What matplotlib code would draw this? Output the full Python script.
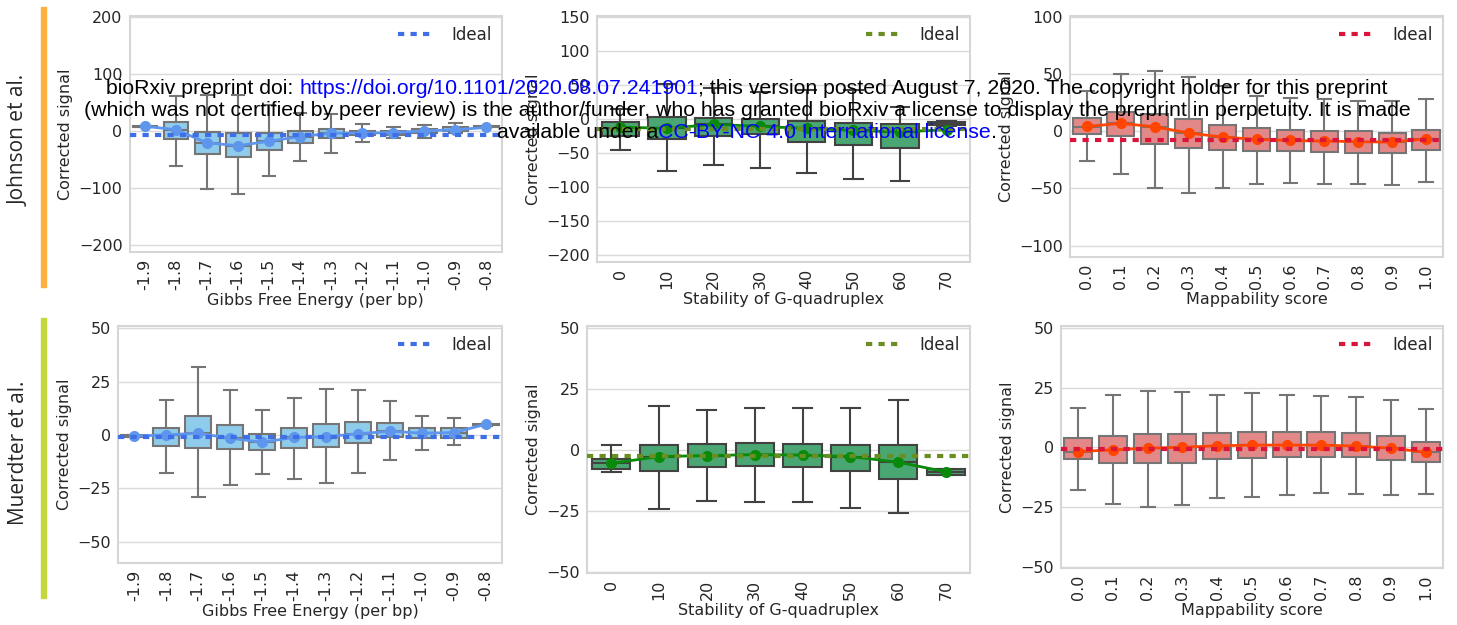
import matplotlib
matplotlib.use('Agg')
import matplotlib.pyplot as plt
from matplotlib.patches import Rectangle

# ---- data ----
gibbs_labels = ['-1.9', '-1.8', '-1.7', '-1.6', '-1.5', '-1.4', '-1.3', '-1.2', '-1.1', '-1.0', '-0.9', '-0.8']
g4_labels = ['0', '10', '20', '30', '40', '50', '60', '70']
map_labels = ['0.0', '0.1', '0.2', '0.3', '0.4', '0.5', '0.6', '0.7', '0.8', '0.9', '1.0']

# Johnson et al. - Gibbs free energy
j_gibbs_wlo = [6, -62, -102, -110, -79, -53, -39, -20, -12, -12, -3, 6]
j_gibbs_q1 = [6, -15, -41, -46, -33, -21, -13, -7.5, -7, -4, 0, 7]
j_gibbs_med = [7, 1, -21, -26, -18, -10, -4, -4, -3, 0, 2, 7.5]
j_gibbs_q3 = [8, 16, -2, -3, -3, 0, 4, 0, 0, 3, 6, 8]
j_gibbs_whi = [8, 61, 62, 62, 45, 32, 29, 12, 7, 11, 14, 8]
j_gibbs_mean = [8, 2, -21, -26, -18, -10, -4, -4, -3, 0, 2, 6]
j_gibbs_ideal = -7.5

# Johnson et al. - G-quadruplex stability
j_g4_wlo = [-46, -77, -67, -72, -79, -88, -91, -10]
j_g4_q1 = [-25, -30, -25, -22, -34, -39, -43, -9]
j_g4_med = [-13, -14, -8, -11, -14, -17, -19, -7]
j_g4_q3 = [-4, 3, 2, 0, -3, -6, -8, -5]
j_g4_whi = [14, 51, 45, 40, 43, 42, 18, -3]
j_g4_mean = [-12, -14, -8, -11, -14, -17, -19, -16]
j_g4_ideal = -15

# Johnson et al. - mappability
j_map_wlo = [-25.6, -37, -50, -54, -50, -46, -45, -46, -46, -47, -44]
j_map_q1 = [-2, -4, -11, -15, -16, -17, -17, -18, -18.6, -19, -16]
j_map_med = [4, 7, 4, -1.4, -5, -7, -8, -8.5, -9, -9.5, -6.4]
j_map_q3 = [12, 17, 15, 10.5, 6, 2.6, 1.2, 0.6, 0, -1, 1.5]
j_map_whi = [35.5, 50, 53, 48, 40, 31, 29, 28, 27, 27, 28]
j_map_mean = [4.3, 7, 4, -1.4, -5, -7, -8, -8.5, -9, -9.5, -6.4]
j_map_ideal = -8

# Muerdter et al. - Gibbs free energy
m_gibbs_wlo = [-1, -18, -29, -23.7, -18.4, -20.5, -22.7, -18, -11.6, -7.2, -4.5, 4]
m_gibbs_q1 = [-1, -5.2, -6, -6.7, -7, -6, -5.8, -3.6, -1.2, -1.6, -1.4, 4.5]
m_gibbs_med = [-0.5, 0, 0.8, -1.6, -3.4, -1.2, -0.8, 0.5, 1.7, 0.8, 1.1, 4.7]
m_gibbs_q3 = [0, 3.4, 9, 4.4, 0.3, 3.3, 5.2, 6.2, 5.6, 3.3, 3.3, 5]
m_gibbs_whi = [0, 16.4, 31.7, 21, 11.7, 17.5, 21.7, 20.8, 16, 8.9, 8.1, 5]
m_gibbs_mean = [-0.5, 0, 0.8, -1.6, -3.4, -1.2, -0.8, 0.5, 1.7, 0.8, 1.1, 5]
m_gibbs_ideal = -0.9

# Muerdter et al. - G-quadruplex stability
m_g4_wlo = [-8.9, -24.4, -20.9, -21.2, -21.6, -23.8, -26, -10.4]
m_g4_q1 = [-7.9, -8.6, -7, -6.7, -7, -8.6, -12, -10.1]
m_g4_med = [-5.5, -2.7, -2.3, -1.9, -2.1, -2.7, -5, -9]
m_g4_q3 = [-3.8, 2.2, 2.5, 2.9, 2.6, 1.9, 2.2, -7.9]
m_g4_whi = [2, 18.2, 16.6, 17.2, 17.2, 17.4, 20.5, -7.8]
m_g4_mean = [-5.5, -2.7, -2.3, -1.9, -2.1, -2.7, -5, -9]
m_g4_ideal = -2.3

# Muerdter et al. - mappability
m_map_wlo = [-17.8, -23.6, -24.8, -24.3, -21.3, -21, -20, -19.3, -19.6, -20.1, -19.6]
m_map_q1 = [-4.8, -6.4, -6.6, -6.4, -4.9, -4.6, -4.1, -3.9, -4.2, -5.2, -6.3]
m_map_med = [-1.7, -1, -0.3, 0.1, 0.7, 1, 1, 1, 0.6, -0.3, -2]
m_map_q3 = [3.8, 5, 5.5, 5.5, 5.9, 6.3, 6.3, 6.3, 5.9, 4.8, 2.5]
m_map_whi = [16.5, 22.2, 23.8, 23.4, 22.2, 22.7, 22.1, 21.5, 21.3, 19.9, 16.1]
m_map_mean = [-1.7, -1, -0.3, 0.1, 0.7, 1, 1, 1, 0.6, -0.3, -2]
m_map_ideal = -0.8

W, H = 1457, 625
fig = plt.figure(figsize=(W / 100, H / 100), dpi=100)


def px_axes(l, t, r, b):
    return fig.add_axes((l / W, 1 - b / H, (r - l) / W, (b - t) / H))


def panel(ax, labels, wlo, q1, med, q3, whi, mean, ideal, box_color, edge, line_color,
          ideal_color, ylim, yticks, xlabel):
    stats = []
    for i in range(len(labels)):
        stats.append(dict(whislo=wlo[i], q1=q1[i], med=med[i], q3=q3[i], whishi=whi[i]))
    pos = list(range(len(labels)))
    ax.bxp(stats, positions=pos, widths=0.8, showfliers=False, patch_artist=True,
           boxprops=dict(facecolor=box_color, edgecolor=edge, linewidth=1.5),
           medianprops=dict(color=edge, linewidth=1.5),
           whiskerprops=dict(color=edge, linewidth=1.5),
           capprops=dict(color=edge, linewidth=1.5))
    ax.plot(pos, mean, color=line_color, lw=2, marker='o', ms=7, zorder=5)
    ax.axhline(ideal, color=ideal_color, lw=3, dashes=(1.5, 1.5), label='Ideal', zorder=6)
    ax.set_xlim(-0.5, len(labels) - 0.5)
    ax.set_ylim(*ylim)
    ax.set_yticks(yticks)
    ax.set_xticks(pos)
    ax.set_xticklabels(labels, rotation=90)
    ax.set_xlabel(xlabel, fontsize=11.5, color='#262626', labelpad=2)
    ax.set_ylabel('Corrected signal', fontsize=11.5, color='#262626', labelpad=4)
    ax.tick_params(length=0, labelsize=11.5, labelcolor='#262626', pad=5)
    ax.yaxis.grid(True, color='#dadada', lw=1)
    ax.set_axisbelow(True)
    for s in ax.spines.values():
        s.set_color('#d6d6d6')
        s.set_linewidth(1.5)
    leg = ax.legend(loc='upper right', frameon=False, fontsize=12, handlelength=2.0,
                    handletextpad=1.2, borderaxespad=0.2)
    for t in leg.get_texts():
        t.set_color('#262626')


blue_box, green_box, red_box = '#8fcbea', '#4aa672', '#e28888'

ax = px_axes(129.5, 16, 502, 252)
panel(ax, gibbs_labels, j_gibbs_wlo, j_gibbs_q1, j_gibbs_med, j_gibbs_q3, j_gibbs_whi, j_gibbs_mean,
      j_gibbs_ideal, blue_box, '#757575', '#5e96ee', '#3f6fe6', (-212, 201),
      [-200, -100, 0, 100, 200], 'Gibbs Free Energy (per bp)')

ax = px_axes(597, 16, 970, 262)
panel(ax, g4_labels, j_g4_wlo, j_g4_q1, j_g4_med, j_g4_q3, j_g4_whi, j_g4_mean,
      j_g4_ideal, green_box, '#424242', '#0a8a0a', '#6b8e23', (-210, 151),
      [-200, -150, -100, -50, 0, 50, 100, 150], 'Stability of G-quadruplex')

ax = px_axes(1070, 16, 1443, 257)
panel(ax, map_labels, j_map_wlo, j_map_q1, j_map_med, j_map_q3, j_map_whi, j_map_mean,
      j_map_ideal, red_box, '#757575', '#ff4500', '#dc143c', (-110, 101),
      [-100, -50, 0, 50, 100], 'Mappability score')

ax = px_axes(118.3, 326, 502, 563)
panel(ax, gibbs_labels, m_gibbs_wlo, m_gibbs_q1, m_gibbs_med, m_gibbs_q3, m_gibbs_whi, m_gibbs_mean,
      m_gibbs_ideal, blue_box, '#757575', '#5e96ee', '#3f6fe6', (-60, 51),
      [-50, -25, 0, 25, 50], 'Gibbs Free Energy (per bp)')

ax = px_axes(587.3, 326, 970, 573)
panel(ax, g4_labels, m_g4_wlo, m_g4_q1, m_g4_med, m_g4_q3, m_g4_whi, m_g4_mean,
      m_g4_ideal, green_box, '#424242', '#0a8a0a', '#6b8e23', (-50.6, 51),
      [-50, -25, 0, 25, 50], 'Stability of G-quadruplex')

ax = px_axes(1060.7, 326, 1443, 568)
panel(ax, map_labels, m_map_wlo, m_map_q1, m_map_med, m_map_q3, m_map_whi, m_map_mean,
      m_map_ideal, red_box, '#757575', '#ff4500', '#dc143c', (-50.6, 51),
      [-50, -25, 0, 25, 50], 'Mappability score')

# row labels with coloured bars
fig.patches.append(Rectangle((41 / W, 1 - 287 / H), 5.5 / W, 280 / H, transform=fig.transFigure,
                             color='#fbb040', zorder=1))
fig.patches.append(Rectangle((41 / W, 1 - 598 / H), 5.5 / W, 280 / H, transform=fig.transFigure,
                             color='#c4d83e', zorder=1))
fig.text(19 / W, 1 - 140 / H, 'Johnson et al.', rotation=90, ha='center', va='center',
         fontsize=15, family='Open Sans', color='#262626')
fig.text(19 / W, 1 - 453 / H, 'Muerdter et al.', rotation=90, ha='center', va='center',
         fontsize=15, family='Open Sans', color='#262626')

# bioRxiv watermark
lines = [
    [('bioRxiv preprint doi: ', 'black'), ('https://doi.org/10.1101/2020.08.07.241901', 'blue'),
     ('; this version posted August 7, 2020. The copyright holder for this preprint', 'black')],
    [('(which was not certified by peer review) is the author/funder, who has granted bioRxiv '
      'a license to display the preprint in perpetuity. It is made', 'black')],
    [('available under a', 'black'), ('CC-BY-NC 4.0 International license', 'blue'), ('.', 'black')],
]
renderer = fig.canvas.get_renderer()
cx = 747
for k, pieces in enumerate(lines):
    y = 1 - (89 + 22 * k) / H
    texts, widths = [], []
    for s, c in pieces:
        t = fig.text(0, y, s, color=c, fontsize=15.3, family='Liberation Sans', va='center', zorder=10)
        texts.append(t)
        widths.append(t.get_window_extent(renderer).width)
    x = cx - sum(widths) / 2
    for t, w in zip(texts, widths):
        t.set_x(x / W)
        x += w

fig.savefig('out.png', dpi=100)
